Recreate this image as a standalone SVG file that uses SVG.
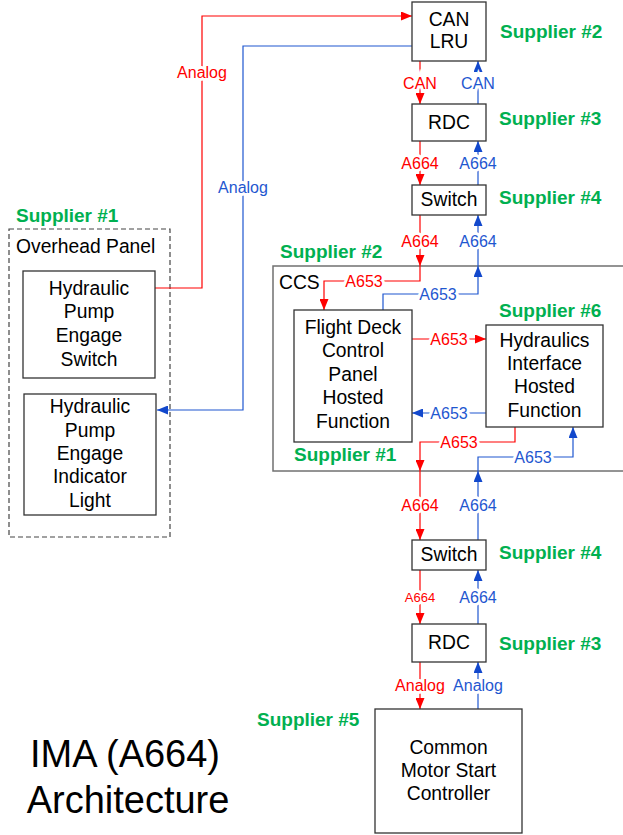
<svg xmlns="http://www.w3.org/2000/svg" width="623" height="835" viewBox="0 0 623 835">
<style>
  .box { fill: #ffffff; stroke: #333333; stroke-width: 1.3; }
  .t { font-family: "Liberation Sans", Arial, sans-serif; font-size: 19.3px; fill: #000000; text-anchor: middle; }
  .tl { font-family: "Liberation Sans", Arial, sans-serif; font-size: 19.3px; fill: #000000; }
  .sup { font-family: "Liberation Sans", Arial, sans-serif; font-size: 19px; font-weight: bold; fill: #00b050; }
  .r { fill: none; stroke: #ff0000; stroke-width: 1.2; }
  .b { fill: none; stroke: #1f57d0; stroke-width: 1.2; }
  .lr { font-family: "Liberation Sans", Arial, sans-serif; font-size: 16px; fill: #ff0000; text-anchor: middle; stroke: #ffffff; stroke-width: 6; paint-order: stroke; }
  .lb { font-family: "Liberation Sans", Arial, sans-serif; font-size: 16px; fill: #1f57d0; text-anchor: middle; stroke: #ffffff; stroke-width: 6; paint-order: stroke; }
  .title { font-family: "Liberation Sans", Arial, sans-serif; font-size: 38px; fill: #000000; text-anchor: middle; }
</style>
<defs>
  <marker id="ar" markerWidth="11" markerHeight="9" refX="11" refY="4.5" orient="auto" markerUnits="userSpaceOnUse">
    <path d="M0,0 L11,4.5 L0,9 Z" fill="#ff0000"/>
  </marker>
  <marker id="ab" markerWidth="11" markerHeight="9" refX="11" refY="4.5" orient="auto" markerUnits="userSpaceOnUse">
    <path d="M0,0 L11,4.5 L0,9 Z" fill="#1248cc"/>
  </marker>
</defs>
<rect width="623" height="835" fill="#ffffff"/>

<!-- containers -->
<g id="ccs">
  <rect x="273" y="266" width="360" height="205" fill="none" stroke="#707070" stroke-width="1.5"/>
  <text class="tl" x="279" y="289">CCS</text>
</g>
<g id="overhead-panel">
  <rect x="9" y="229" width="161" height="308" fill="none" stroke="#444444" stroke-width="1.2" stroke-dasharray="5,3"/>
  <text class="tl" x="16" y="253">Overhead Panel</text>
</g>

<!-- connectors -->
<g id="connectors">
  <path class="r" d="M155,288 H202 V16 H412" marker-end="url(#ar)"/>
  <path class="b" d="M412,46 H243 V410 H157" marker-end="url(#ab)"/>
  <path class="r" d="M420,61 V104" marker-end="url(#ar)"/>
  <path class="b" d="M478,104 V61" marker-end="url(#ab)"/>
  <path class="r" d="M420,141 V185" marker-end="url(#ar)"/>
  <path class="b" d="M478,185 V141" marker-end="url(#ab)"/>
  <path class="r" d="M420,215 V266" marker-end="url(#ar)"/>
  <path class="b" d="M478,266 V215" marker-end="url(#ab)"/>
  <path class="r" d="M420,266 V281 H324 V310" marker-end="url(#ar)"/>
  <path class="b" d="M383,310 V294 H478 V266" marker-end="url(#ab)"/>
  <path class="r" d="M412,339 H486" marker-end="url(#ar)"/>
  <path class="b" d="M486,413 H412" marker-end="url(#ab)"/>
  <path class="r" d="M515,427 V442 H420 V471" marker-end="url(#ar)"/>
  <path class="b" d="M478,471 V457 H573 V427" marker-end="url(#ab)"/>
  <path class="r" d="M420,471 V540" marker-end="url(#ar)"/>
  <path class="b" d="M478,540 V471" marker-end="url(#ab)"/>
  <path class="r" d="M420,570 V624" marker-end="url(#ar)"/>
  <path class="b" d="M478,624 V570" marker-end="url(#ab)"/>
  <path class="r" d="M420,662 V709" marker-end="url(#ar)"/>
  <path class="b" d="M478,709 V662" marker-end="url(#ab)"/>

  <text class="lr" x="202" y="78">Analog</text>
  <text class="lb" x="243" y="193">Analog</text>
  <text class="lr" x="420" y="89">CAN</text>
  <text class="lb" x="478" y="89">CAN</text>
  <text class="lr" x="420" y="169">A664</text>
  <text class="lb" x="478" y="169">A664</text>
  <text class="lr" x="420" y="247">A664</text>
  <text class="lb" x="478" y="247">A664</text>
  <text class="lr" x="364" y="287">A653</text>
  <text class="lb" x="438" y="300">A653</text>
  <text class="lr" x="449" y="345">A653</text>
  <text class="lb" x="449" y="419">A653</text>
  <text class="lr" x="459" y="448">A653</text>
  <text class="lb" x="533" y="463">A653</text>
  <text class="lr" x="420" y="511">A664</text>
  <text class="lb" x="478" y="511">A664</text>
  <text class="lr" x="420" y="602" style="font-size:13px">A664</text>
  <text class="lb" x="478" y="603">A664</text>
  <text class="lr" x="420" y="691">Analog</text>
  <text class="lb" x="478" y="691">Analog</text>
</g>

<!-- nodes -->
<g id="can-lru">
  <rect class="box" x="412" y="2" width="74" height="59"/>
  <text class="t" x="449" y="26">CAN</text>
  <text class="t" x="449" y="48">LRU</text>
</g>
<g id="rdc-top">
  <rect class="box" x="412" y="104" width="74" height="37"/>
  <text class="t" x="449" y="129">RDC</text>
</g>
<g id="switch-top">
  <rect class="box" x="412" y="185" width="74" height="30"/>
  <text class="t" x="449" y="206">Switch</text>
</g>
<g id="flight-deck">
  <rect class="box" x="294" y="310" width="118" height="132"/>
  <text class="t" x="353" y="334">Flight Deck</text>
  <text class="t" x="353" y="357">Control</text>
  <text class="t" x="353" y="381">Panel</text>
  <text class="t" x="353" y="404">Hosted</text>
  <text class="t" x="353" y="428">Function</text>
</g>
<g id="hydraulics-if">
  <rect class="box" x="486" y="325" width="117" height="102"/>
  <text class="t" x="544.5" y="347">Hydraulics</text>
  <text class="t" x="544.5" y="370">Interface</text>
  <text class="t" x="544.5" y="393">Hosted</text>
  <text class="t" x="544.5" y="417">Function</text>
</g>
<g id="switch-bottom">
  <rect class="box" x="412" y="540" width="74" height="30"/>
  <text class="t" x="449" y="561">Switch</text>
</g>
<g id="rdc-bottom">
  <rect class="box" x="412" y="624" width="74" height="38"/>
  <text class="t" x="449" y="649">RDC</text>
</g>
<g id="cmsc">
  <rect class="box" x="375" y="709" width="147" height="124"/>
  <text class="t" x="448.5" y="754">Common</text>
  <text class="t" x="448.5" y="777">Motor Start</text>
  <text class="t" x="448.5" y="800">Controller</text>
</g>
<g id="pump-switch">
  <rect class="box" x="23" y="271" width="132" height="107"/>
  <text class="t" x="89" y="295">Hydraulic</text>
  <text class="t" x="89" y="318">Pump</text>
  <text class="t" x="89" y="342">Engage</text>
  <text class="t" x="89" y="366">Switch</text>
</g>
<g id="pump-light">
  <rect class="box" x="24" y="394" width="132" height="121"/>
  <text class="t" x="90" y="413">Hydraulic</text>
  <text class="t" x="90" y="437">Pump</text>
  <text class="t" x="90" y="460">Engage</text>
  <text class="t" x="90" y="483">Indicator</text>
  <text class="t" x="90" y="507">Light</text>
</g>

<!-- supplier labels -->
<g id="suppliers">
  <text class="sup" x="500" y="38">Supplier #2</text>
  <text class="sup" x="499" y="125">Supplier #3</text>
  <text class="sup" x="499" y="204">Supplier #4</text>
  <text class="sup" x="280" y="258">Supplier #2</text>
  <text class="sup" x="499" y="317">Supplier #6</text>
  <text class="sup" x="294" y="461">Supplier #1</text>
  <text class="sup" x="499" y="559">Supplier #4</text>
  <text class="sup" x="499" y="650">Supplier #3</text>
  <text class="sup" x="257" y="726">Supplier #5</text>
  <text class="sup" x="16" y="222">Supplier #1</text>
</g>

<g id="title">
  <text class="title" x="125" y="767">IMA (A664)</text>
  <text class="title" x="128" y="813">Architecture</text>
</g>
</svg>
